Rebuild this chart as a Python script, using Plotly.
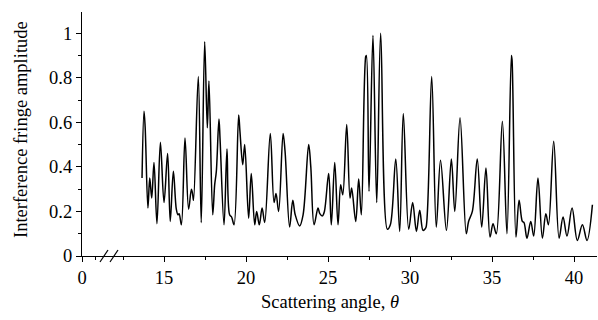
import plotly.graph_objects as go

# scattering angle (axis starts at 10, labelled 0 because of the axis break)
theta = [13.66, 13.78, 13.85, 14.02, 14.13, 14.25, 14.39, 14.57, 14.78, 15.0, 15.22, 15.38, 15.57,
         15.75, 15.85, 15.92, 16.06, 16.28, 16.5, 16.67, 16.74, 16.8, 17.09, 17.27, 17.48, 17.64,
         17.74, 17.97, 18.09, 18.19, 18.35, 18.42, 18.66, 18.84, 19.0, 19.12, 19.27, 19.55, 19.63,
         19.8, 19.92, 20.16, 20.32, 20.53, 20.65, 20.81, 20.98, 21.14, 21.48, 21.71, 21.83, 21.99,
         22.26, 22.38, 22.66, 22.85, 23.0, 23.27, 23.48, 23.82, 23.95, 24.15, 24.39, 24.5, 24.66,
         24.78, 25.04, 25.2, 25.41, 25.61, 25.77, 25.9, 26.14, 26.34, 26.44, 26.69, 26.87, 27.03,
         27.3, 27.34, 27.5, 27.74, 27.97, 28.21, 28.62, 28.8, 29.13, 29.37, 29.59, 29.92, 30.16,
         30.39, 30.59, 30.79, 30.9, 30.98, 31.32, 31.6, 31.86, 32.22, 32.52, 32.73, 33.05, 33.43,
         33.57, 33.8, 34.1, 34.37, 34.63, 34.88, 35.06, 35.26, 35.63, 35.91, 36.18, 36.22, 36.46,
         36.65, 36.85, 36.95, 37.13, 37.36, 37.54, 37.8, 38.07, 38.28, 38.44, 38.76, 39.09, 39.33,
         39.57, 39.88, 40.2, 40.51, 40.79, 41.12]
amplitude = [0.35, 0.65, 0.58, 0.215, 0.35, 0.26, 0.42, 0.145, 0.51, 0.24, 0.46, 0.155, 0.38,
             0.21, 0.185, 0.19, 0.14, 0.53, 0.21, 0.30, 0.28, 0.25, 0.805, 0.15, 0.962, 0.575,
             0.785, 0.185, 0.32, 0.38, 0.615, 0.52, 0.14, 0.48, 0.185, 0.175, 0.14, 0.633, 0.56,
             0.41, 0.50, 0.17, 0.37, 0.14, 0.20, 0.14, 0.215, 0.15, 0.55, 0.24, 0.28, 0.20,
             0.55, 0.47, 0.13, 0.25, 0.185, 0.135, 0.185, 0.50, 0.40, 0.14, 0.215, 0.19, 0.18,
             0.20, 0.37, 0.14, 0.42, 0.14, 0.32, 0.275, 0.59, 0.26, 0.305, 0.155, 0.345, 0.185,
             0.895, 0.90, 0.29, 0.99, 0.24, 1.0, 0.12, 0.14, 0.435, 0.11, 0.64, 0.12, 0.24,
             0.11, 0.205, 0.115, 0.12, 0.13, 0.805, 0.13, 0.43, 0.115, 0.435, 0.20, 0.62, 0.10,
             0.155, 0.20, 0.435, 0.13, 0.395, 0.085, 0.145, 0.10, 0.605, 0.10, 0.90, 0.88, 0.085,
             0.25, 0.155, 0.15, 0.08, 0.155, 0.09, 0.35, 0.08, 0.19, 0.14, 0.515, 0.08, 0.175,
             0.09, 0.215, 0.07, 0.14, 0.07, 0.23]

x_tickvals = [10, 15, 20, 25, 30, 35, 40]
x_ticktext = ["0", "15", "20", "25", "30", "35", "40"]
x_minor = [10.83, 12.5, 17.5, 22.5, 27.5, 32.5, 37.5]
y_tickvals = [0, 0.2, 0.4, 0.6, 0.8, 1.0]
y_ticktext = ["0", "0.2", "0.4", "0.6", "0.8", "1"]
y_minor = [0.1, 0.3, 0.5, 0.7, 0.9]

FONT = "Liberation Serif"
FS = 18.5
W, H = 598, 320
L, R, T, B = 82, 1, 12, 64
pw, ph = W - L - R, H - T - B

fig = go.Figure()
fig.add_trace(go.Scatter(x=theta, y=amplitude, mode="lines",
                         line=dict(color="black", width=1.5, shape="spline", smoothing=1.0),
                         showlegend=False, hoverinfo="skip"))

fig.update_layout(
    width=W, height=H, margin=dict(l=L, r=R, t=T, b=B),
    paper_bgcolor="white", plot_bgcolor="white",
    font=dict(family=FONT, size=FS, color="black"),
    xaxis=dict(range=[10, 41.4], showgrid=False, zeroline=False, showline=True,
               linecolor="black", linewidth=1.2, ticks="outside", ticklen=5, tickwidth=1,
               tickcolor="black", tickmode="array", tickvals=x_tickvals, ticktext=x_ticktext,
               minor=dict(tickmode="array", tickvals=x_minor, ticks="outside", ticklen=3,
                          tickcolor="black", tickwidth=1, showgrid=False),
               tickfont=dict(family=FONT, size=FS)),
    yaxis=dict(range=[0, 1.095], showgrid=False, zeroline=False, showline=True,
               linecolor="black", linewidth=1.2, ticks="outside", ticklen=5, tickwidth=1,
               tickcolor="black", tickmode="array", tickvals=y_tickvals, ticktext=y_ticktext,
               minor=dict(tickmode="array", tickvals=y_minor, ticks="outside", ticklen=3,
                          tickcolor="black", tickwidth=1, showgrid=False),
               tickfont=dict(family=FONT, size=FS)),
)

def px_x(p):
    return (p - L) / pw

def px_y(p):
    return (H - B - p) / ph

# axis break marks
for a, b in [(100, 108), (110, 118)]:
    fig.add_shape(type="line", xref="paper", yref="paper",
                  x0=px_x(a), y0=px_y(262), x1=px_x(b), y1=px_y(250),
                  line=dict(color="black", width=1.2))

fig.add_annotation(text="Scattering angle, <i>θ</i>", xref="paper", yref="paper",
                   x=px_x(330), y=px_y(302), showarrow=False, xanchor="center", yanchor="middle",
                   font=dict(family=FONT, size=FS))
fig.add_annotation(text="Interference fringe amplitude", xref="paper", yref="paper",
                   x=px_x(21), y=px_y(130), showarrow=False, textangle=-90,
                   xanchor="center", yanchor="middle", font=dict(family=FONT, size=FS))

fig.write_html("out.html")
